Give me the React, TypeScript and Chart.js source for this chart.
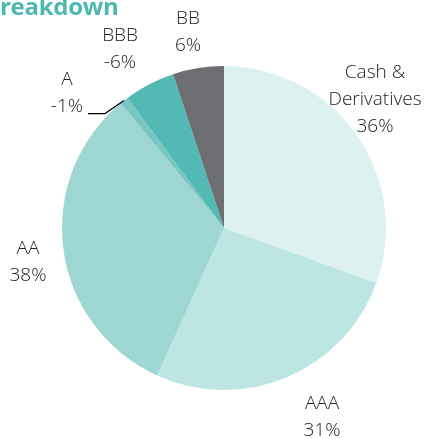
import React, { useEffect, useRef } from "react";
import { Chart, registerables } from "chart.js";

Chart.register(...registerables);

const categories = ["Cash &\nDerivatives", "AAA", "AA", "A", "BBB", "BB"];
const percentLabels = ["36%", "31%", "38%", "-1%", "-6%", "6%"];
const sliceValues = [36, 31, 38, 1, 6, 6];
const sliceColors = ["#dcf1f0", "#bde6e3", "#9dd6d3", "#78c7c2", "#52b9b4", "#6d6e71"];
// label block centre, as fractions of radius relative to pie centre
const labelOffsets: [number, number][] = [
  [0.932, -0.79],
  [0.605, 1.167],
  [-1.21, 0.21],
  [-0.969, -0.833],
  [-0.642, -1.105],
  [-0.222, -1.21],
];
const leaderFor = [false, false, false, true, false, false];

const labelPlugin = {
  id: "outerLabels",
  afterDraw(chart: any) {
    const ctx = chart.ctx;
    const meta = chart.getDatasetMeta(0);
    ctx.save();
    ctx.font = "300 19px 'Open Sans', sans-serif";
    ctx.fillStyle = "#222222";
    ctx.textAlign = "center";
    ctx.textBaseline = "middle";
    const lh = 27;
    meta.data.forEach((arc: any, i: number) => {
      const { x, y, outerRadius, startAngle, endAngle } = arc.getProps(
        ["x", "y", "outerRadius", "startAngle", "endAngle"],
        true
      );
      const lines = [...categories[i].split("\n"), percentLabels[i]];
      const cx = x + labelOffsets[i][0] * outerRadius;
      const cy = y + labelOffsets[i][1] * outerRadius;
      const top = cy - ((lines.length - 1) * lh) / 2;
      lines.forEach((ln, k) => ctx.fillText(ln, cx, top + k * lh));
      if (leaderFor[i]) {
        const mid = (startAngle + endAngle) / 2;
        const ex = x + Math.cos(mid) * outerRadius;
        const ey = y + Math.sin(mid) * outerRadius;
        const ly = top + lh + 7;
        ctx.beginPath();
        ctx.strokeStyle = "#000";
        ctx.lineWidth = 1.2;
        ctx.moveTo(cx + 21, ly);
        ctx.lineTo(cx + 38, ly);
        ctx.lineTo(ex, ey);
        ctx.stroke();
      }
    });
    ctx.restore();
  },
};

export default function App() {
  const ref = useRef<HTMLCanvasElement>(null);
  useEffect(() => {
    document.body.style.margin = "0";
    const chart = new Chart(ref.current as HTMLCanvasElement, {
      type: "pie",
      data: {
        labels: categories,
        datasets: [
          {
            data: sliceValues,
            backgroundColor: sliceColors,
            borderWidth: 0,
          },
        ],
      },
      options: {
        animation: false,
        responsive: false,
        layout: { padding: { left: 62, right: 38, top: 66, bottom: 49 } },
        plugins: { legend: { display: false }, tooltip: { enabled: false } },
      },
      plugins: [labelPlugin],
    });
    return () => chart.destroy();
  }, []);
  return (
    <div style={{ position: "relative", width: 424, height: 439, overflow: "hidden", background: "#fff" }}>
      <canvas ref={ref} width={424} height={439} style={{ position: "absolute", left: 0, top: 0 }} />
      <div
        style={{
          position: "absolute",
          left: 0,
          top: -11,
          fontFamily: "'Open Sans', sans-serif",
          fontWeight: 700,
          fontSize: 24,
          letterSpacing: -0.3,
          color: "#4db8b2",
          whiteSpace: "nowrap",
        }}
      >
        reakdown
      </div>
    </div>
  );
}
